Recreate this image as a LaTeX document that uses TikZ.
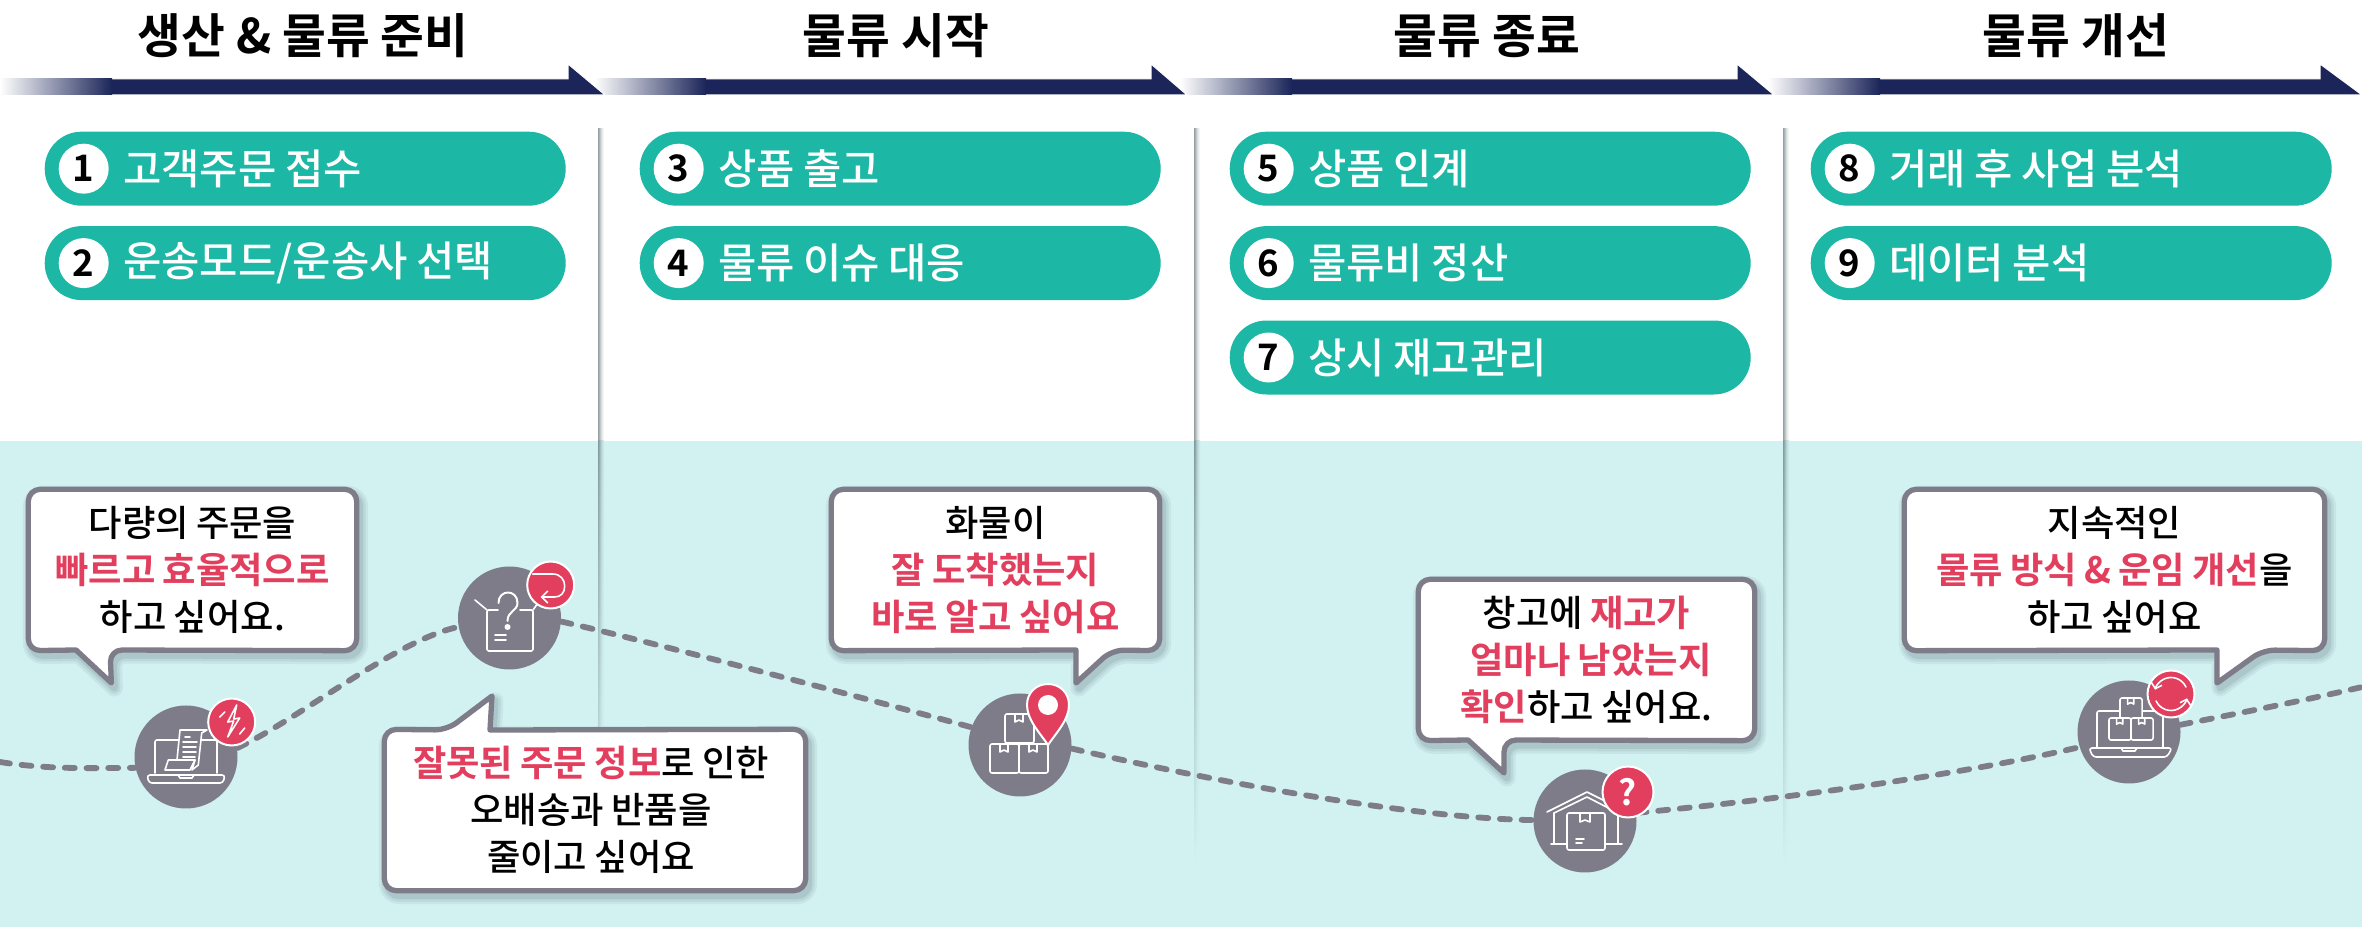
\documentclass[tikz,border=0pt]{standalone}
\usepackage{fontspec}
\setmainfont{Noto Sans CJK KR Medium}[BoldFont={Noto Sans CJK KR Bold}]
\usetikzlibrary{positioning,arrows.meta}

\definecolor{navybar}{HTML}{1B2559}
\definecolor{tealpill}{HTML}{1CB7A5}
\definecolor{mintpanel}{HTML}{D2F1F1}
\definecolor{slategray}{HTML}{7D7C88}
\definecolor{hotred}{HTML}{E23F5E}
\definecolor{shadowgray}{HTML}{3F5458}

\pgfdeclarelayer{bg}
\pgfsetlayers{bg,main}

\newcommand{\redbf}[1]{\textbf{\textcolor{hotred}{#1}}}
\newcommand{\pillfont}{\fontsize{11.85pt}{14pt}\selectfont\setlength{\spaceskip}{.206em}}
\newcommand{\sayfont}{\fontsize{10.33pt}{13.4pt}\selectfont\setlength{\spaceskip}{.2em}\setlength{\lineskiplimit}{-20pt}}

\tikzset{
    headtxt/.style={font=\fontsize{13.55pt}{16pt}\selectfont\bfseries, inner sep=0},
    pill/.style={fill=tealpill, text=white, rounded corners=3.69mm, anchor=north west,
        minimum height=7.4mm, text width=5.21cm, inner xsep=0, inner ysep=0, align=left,
        execute at begin node={\pillfont\hspace*{7.85mm}}},
    numdot/.style={circle, fill=white, text=black, minimum size=5mm, inner sep=0,
        font=\fontsize{10.4pt}{12pt}\selectfont\bfseries},
    saytxt/.style={inner sep=0, align=center, minimum height=1.6cm,
        execute at begin node={\sayfont}},
    softshadow/.style={
        preaction={draw=shadowgray, draw opacity=.07, line width=1.7mm, line join=round, transform canvas={shift={(.3mm,-.5mm)}}},
        preaction={draw=shadowgray, draw opacity=.09, line width=1.2mm, line join=round, transform canvas={shift={(.3mm,-.5mm)}}},
        preaction={draw=shadowgray, draw opacity=.12, line width=.7mm, line join=round, transform canvas={shift={(.3mm,-.5mm)}}}},
    sayline/.style={softshadow, draw=slategray, fill=white, line width=.53mm, line join=round},
    trail/.style={draw=slategray, line width=.58mm, dash pattern=on 1mm off 1.17mm, line cap=round},
    icondisc/.style={circle, fill=slategray, minimum size=1.03cm, inner sep=0},
    badge/.style={circle, fill=hotred, draw=white, line width=.2mm, minimum size=4.7mm, inner sep=0},
    iconline/.style={draw=white, line width=.16mm, line cap=round, line join=round},
    parcel/.pic={
        \draw[iconline, fill=slategray, rounded corners=.2mm] (0,0) rectangle (29,29);
        \draw[iconline] (10,0) -- (10,8) -- (14,6) -- (18,8) -- (18,0);
    },
}

\begin{document}
\begin{tikzpicture}[x=0.1mm, y=-0.1mm]
    \useasboundingbox (0,0) rectangle (2362,927);

    \begin{pgfonlayer}{bg}
        \fill[mintpanel] (0,441) rectangle (2362,927);
        % column rules with their shadow
        \foreach \sx in {598,1194,1783} {
            \foreach \si/\sp in {0/55,1/45,2/32,3/20,4/12,5/6} {
                \fill[shadowgray!\sp!white] (\sx+\si,128) rectangle (\sx+\si+1,441);
                \shade[top color=shadowgray!\sp!mintpanel, bottom color=mintpanel] (\sx+\si,441) rectangle (\sx+\si+1,865);
            }
        }
    \end{pgfonlayer}

    % arrows of the header, last one first
    \foreach \bx/\hx/\tx in {1768/2320/2362, 1180/1737/1774, 594/1151/1187, 0/568/605} {
        \fill[navybar, draw=white, line width=.1mm] (\bx+100,79) -- (\hx,79) -- (\hx,64) -- (\tx,95) -- (\bx+100,95) -- cycle;
        \shade[left color=white, right color=navybar] (\bx,79) rectangle (\bx+112,95);
    }
    \node[headtxt] (head1) at (303,36) {생산 \& 물류 준비};
    \node[headtxt] (head2) at (896,36) {물류 시작};
    \node[headtxt] (head3) at (1487,36) {물류 종료};
    \node[headtxt] (head4) at (2076,36) {물류 개선};

    \node[pill] (pill1) at (44,131) {고객주문 접수};
    \node[pill, below=1.9mm of pill1] (pill2) {운송모드/운송사 선택};
    \node[pill] (pill3) at (639,131) {상품 출고};
    \node[pill, below=1.9mm of pill3] (pill4) {물류 이슈 대응};
    \node[pill] (pill5) at (1229,131) {상품 인계};
    \node[pill, below=1.9mm of pill5] (pill6) {물류비 정산};
    \node[pill, below=1.9mm of pill6] (pill7) {상시 재고관리};
    \node[pill] (pill8) at (1810,131) {거래 후 사업 분석};
    \node[pill, below=1.9mm of pill8] (pill9) {데이터 분석};
    \foreach \pn in {1,...,9} {
        \node[numdot, right=1.4mm of pill\pn.west] (num\pn) {\pn};
    }

    \coordinate (trailL) at (0,762); % left end of the trail
    \coordinate (trailR) at (2362,687); % right end of the trail
    \node[icondisc] (ico1) at (186,757) {}; % laptop with order
    \node[icondisc] (ico2) at (509.5,618) {}; % open box
    \node[icondisc] (ico3) at (1020,745) {}; % stacked boxes
    \node[icondisc] (ico4) at (1585,821) {}; % warehouse
    \node[icondisc] (ico5) at (2129,732) {}; % laptop with boxes

    \begin{pgfonlayer}{bg}
        \draw[trail] (trailL) .. controls +(50,8) and +(-40,0) .. (ico1.192);
        \draw[trail] (ico1.10) .. controls +(60,-28) and +(-60,12) .. (ico2.190);
        \draw[trail] (ico2.-4) .. controls +(80,18) and +(-80,-22) .. (ico3.160);
        \draw[trail] (ico3.-4) .. controls +(120,28) and +(-130,-2) .. (ico4.179);
        \draw[trail] (ico4.9) .. controls +(130,-12) and +(-130,30) .. (ico5.197);
        \draw[trail] (ico5.8) .. controls +(60,-12) and +(-60,14) .. (trailR);
    \end{pgfonlayer}

    % laptop with order
    \begin{scope}[shift={(ico1)}]
        \draw[iconline, rounded corners=.2mm] (-31,16) -- (-31,-17) -- (31,-17) -- (31,16);
        \draw[iconline, rounded corners=.3mm] (-39,18) -- (39,18) -- (37,26) -- (-37,26) -- cycle;
        \draw[iconline] (-8,18) -- (-6,21) -- (6,21) -- (8,18);
        \draw[iconline, fill=slategray] (-9,3) -- (-6,-27) -- (21,-27) -- (15.7,-24) -- (12.3,8) -- (6,13) -- (9,3) -- cycle;
        \draw[iconline, fill=slategray] (-17.7,3) -- (9,3) -- (4,13) -- (-21,13) -- cycle;
        \draw[iconline] (-1,-20) -- (4,-20) (-3,-15) -- (11,-15) (-3,-10) -- (10,-10) (-3,-5) -- (10,-5) (-3,0) -- (9,0);
    \end{scope}
    \node[badge] (bdg1) at (231.7,722) {};
    \begin{scope}[shift={(bdg1)}]
        \draw[iconline] (5,-17) -- (-4,0) -- (2,-1) -- (-4,15) -- (8,-4) -- (2,-3) -- cycle;
        \draw[iconline] (-12,-5) -- (-7,-10) (8,12) -- (13,6);
    \end{scope}

    % open box
    \begin{scope}[shift={(ico2)}]
        \draw[iconline, rounded corners=.15mm] (-11.5,-8) -- (-22.5,-8) -- (-22.5,33) -- (23.5,33) -- (23.5,-8) -- (10.5,-8);
        \draw[iconline] (-22.5,-8) -- (-34.5,-18) (23.5,-8) -- (28.5,-15);
        \draw[iconline, line width=.2mm] (-11,-15) .. controls (-11,-29) and (8,-29) .. (8,-15)
            .. controls (8,-7) and (-2,-7) .. (-2,3);
        \fill[white] (-2,9) circle (3);
        \draw[iconline] (-14.5,17) -- (-3.5,17) (-14.5,22) -- (-3.5,22);
    \end{scope}
    \node[badge] (bdg2) at (550.7,585) {};
    \begin{scope}[shift={(bdg2)}]
        \draw[iconline, -{Straight Barb[length=.6mm,width=1.2mm]}] (-18,-11) -- (2,-11) .. controls (10,-11) and (14,-5) .. (14,1)
            .. controls (14,8) and (10,12) .. (4,12) -- (-10,12);
    \end{scope}

    % stacked boxes, pin on top
    \pic at ([shift={(-15,-31)}]ico3) {parcel};
    \pic at ([shift={(-30,-1)}]ico3) {parcel};
    \pic at ([shift={(-1,-1)}]ico3) {parcel};
    \coordinate (pin) at (1048,705);
    \draw[fill=hotred, draw=white, line width=.2mm] (1048,745) .. controls (1040,733) and (1027,720) .. (1027,705)
        .. controls (1027,692) and (1037,684) .. (1048,684) .. controls (1059,684) and (1069,692) .. (1069,705)
        .. controls (1069,720) and (1056,733) .. cycle;
    \fill[white] (pin) circle (10);

    % warehouse
    \begin{scope}[shift={(ico4)}]
        \draw[iconline] (-38,-9) -- (2,-29) -- (42,-9);
        \draw[iconline] (-31,-8) -- (2,-24) -- (33,-8);
        \draw[iconline] (-31,-8) -- (-31,23) (33,-8) -- (33,23) (-34,23) -- (37,23);
        \draw[iconline, fill=slategray, rounded corners=.2mm] (-18,-8) rectangle (20,29);
        \draw[iconline] (-5,-8) -- (-5,1) -- (0,-1) -- (5,1) -- (5,-8);
        \draw[iconline] (-9,18) -- (-1,18) (-9,22) -- (-3,22);
    \end{scope}
    \node[badge, minimum size=5.1mm, text=white, font=\fontsize{10pt}{12pt}\selectfont\bfseries] (bdg4) at (1628,792) {?};

    % laptop with boxes
    \begin{scope}[shift={(ico5)}]
        \draw[iconline, rounded corners=.2mm] (-32,15) -- (-32,-21) -- (34,-21) -- (34,15);
        \draw[iconline, rounded corners=.3mm] (-40,16) -- (43,16) -- (38,25) -- (-36,25) -- cycle;
        \draw[iconline] (-8,16) -- (-6,19) -- (6,19) -- (8,16);
    \end{scope}
    \pic[scale=.76] at ([shift={(-9,-34)}]ico5) {parcel};
    \pic[scale=.76] at ([shift={(-20,-14)}]ico5) {parcel};
    \pic[scale=.76] at ([shift={(2,-14)}]ico5) {parcel};
    \node[badge] (bdg5) at (2171,694) {};
    \draw[iconline, -{Straight Barb[length=.5mm,width=1.1mm]}] ([shift={(25:1.65mm)}]bdg5.center) arc[start angle=25, end angle=165, radius=1.65mm];
    \draw[iconline, -{Straight Barb[length=.5mm,width=1.1mm]}] ([shift={(205:1.65mm)}]bdg5.center) arc[start angle=205, end angle=345, radius=1.65mm];

    \node[saytxt, text width=3.27cm] (say1) at (192.5,570) {다량의 주문을\\\redbf{빠르고 효율적으로}\\하고 싶어요.};
    \node[saytxt, text width=4.2cm] (say2) at (595,810) {\hspace*{-.8mm}\redbf{잘못된 주문 정보}로 인한\\\hspace*{-.8mm}오배송과 반품을\\\hspace*{-.8mm}줄이고 싶어요};
    \node[saytxt, text width=3.27cm] (say3) at (995.5,570) {화물이\\\redbf{잘 도착했는지}\\\redbf{바로 알고 싶어요}};
    \node[saytxt, text width=3.35cm] (say4) at (1586.5,660) {창고에 \redbf{재고가}\\\hspace*{.25em}\redbf{얼마나 남았는지}\\\redbf{확인}하고 싶어요.};
    \node[saytxt, text width=4.19cm] (say5) at (2114.5,570) {지속적인\\\redbf{물류 방식 \& 운임 개선}을\\하고 싶어요};

    \begin{pgfonlayer}{bg}
        \draw[sayline, rounded corners=1.2mm] (76,650) -- (say1.south west) -- (say1.north west) -- (say1.north east) -- (say1.south east) -- (110,650) [sharp corners] -- (111.4,683) -- cycle;
        \draw[sayline, rounded corners=1.2mm] (490,730) -- (say2.north east) -- (say2.south east) -- (say2.south west) -- (say2.north west) -- (447,730) [sharp corners] -- (492,696) -- cycle;
        \draw[sayline, rounded corners=1.2mm] (1076,650) -- (say3.south west) -- (say3.north west) -- (say3.north east) -- (say3.south east) -- (1112,650) [sharp corners] -- (1076,683) -- cycle;
        \draw[sayline, rounded corners=1.2mm] (1468,740) -- (say4.south west) -- (say4.north west) -- (say4.north east) -- (say4.south east) -- (1504,740) [sharp corners] -- (1504,773) -- cycle;
        \draw[sayline, rounded corners=1.2mm] (2217,650) -- (say5.south west) -- (say5.north west) -- (say5.north east) -- (say5.south east) -- (2263,650) [sharp corners] -- (2217,683) -- cycle;
    \end{pgfonlayer}
\end{tikzpicture}
\end{document}
